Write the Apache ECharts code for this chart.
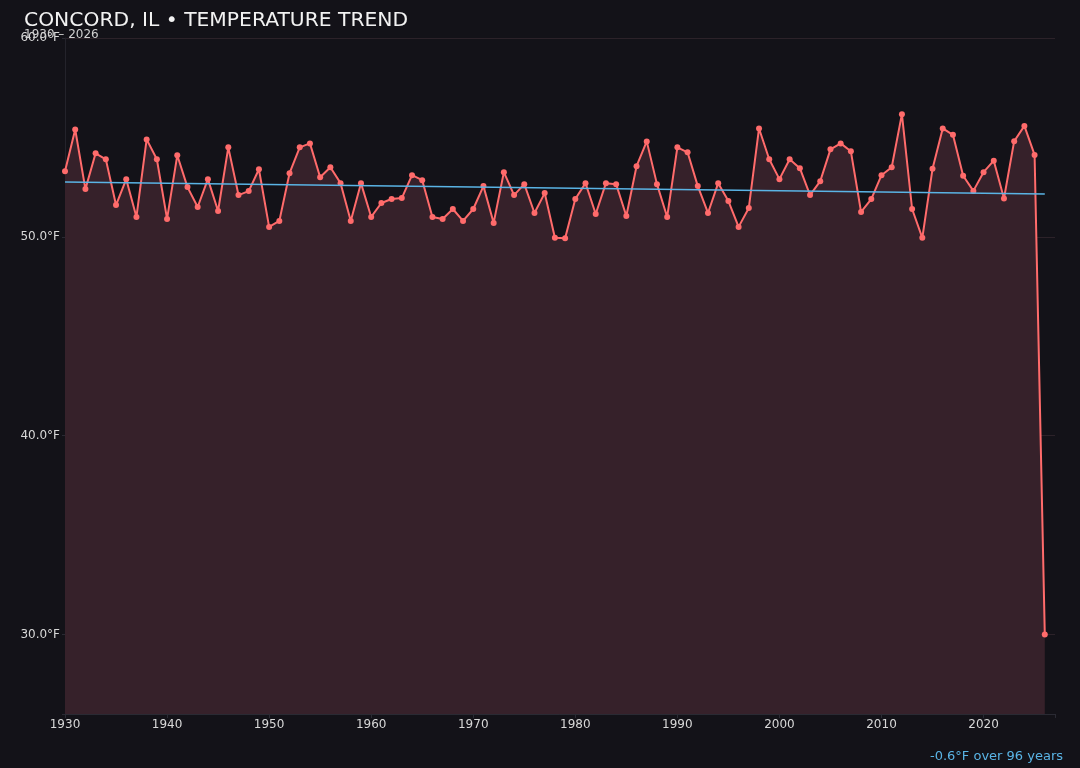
<!DOCTYPE html>
<html>
<head>
<meta charset="utf-8">
<script src="https://cdn.jsdelivr.net/npm/echarts@6/dist/echarts.min.js"></script>
<style>
html,body{margin:0;padding:0;background:#131218;}
#chart{width:1080px;height:768px;}
</style>
</head>
<body>
<div id="chart"></div>
<script>
const years = [];
for (let y = 1930; y <= 2026; y++) years.push(y);
const temps = [
  53.3, 55.4, 52.4, 54.2, 53.9, 51.6, 52.9, 51.0, 54.9, 53.9,
  50.9, 54.1, 52.5, 51.5, 52.9, 51.3, 54.5, 52.1, 52.3, 53.4,
  50.5, 50.8, 53.2, 54.5, 54.7, 53.0, 53.5, 52.7, 50.8, 52.7,
  51.0, 51.7, 51.9, 51.95, 53.1, 52.85, 51.0, 50.9, 51.4, 50.8,
  51.4, 52.55, 50.7, 53.25, 52.1, 52.65, 51.2, 52.2, 49.95, 49.93,
  51.9, 52.7, 51.15, 52.7, 52.65, 51.05, 53.55, 54.8, 52.65, 51.0,
  54.5, 54.25, 52.55, 51.2, 52.7, 51.8, 50.5, 51.45, 55.45, 53.9,
  52.9, 53.9, 53.45, 52.1, 52.8, 54.4, 54.7, 54.3, 51.25, 51.9,
  53.1, 53.5, 56.17, 51.4, 49.95, 53.42, 55.45, 55.13, 53.07, 52.31,
  53.25, 53.83, 51.93, 54.81, 55.58, 54.12, 30.0
];
const trendYears = [1930, 2026];
const trendValues = [52.76, 52.16];
const yTicks = [30, 40, 50, 60];
const titleText = 'CONCORD, IL \u2022 TEMPERATURE TREND';
const subtitleText = '1930 \u2013 2026';
const footText = '-0.6\u00b0F over 96 years';

const chart = echarts.init(document.getElementById('chart'));
chart.setOption({
  backgroundColor: '#131218',
  animation: false,
  textStyle: { fontFamily: 'DejaVu Sans' },
  title: [
    { text: titleText, left: 24, top: 11, padding: 0,
      textStyle: { color: '#f2f2f2', fontSize: 20.3, fontWeight: 'normal', fontFamily: 'DejaVu Sans' } },
    { text: subtitleText, left: 24, top: 29, padding: 0,
      textStyle: { color: '#d0d0d0', fontSize: 12, fontWeight: 'normal', fontFamily: 'DejaVu Sans' } },
    { text: footText, right: 17, bottom: 5, padding: 0,
      textStyle: { color: '#5ab4e5', fontSize: 13, fontWeight: 'normal', fontFamily: 'DejaVu Sans' } }
  ],
  grid: { left: 65, right: 25, top: 38, bottom: 54, containLabel: false },
  xAxis: {
    type: 'value', min: 1930, max: 2027, interval: 10,
    axisLine: { show: true, lineStyle: { color: '#2a2a33', width: 1 } },
    axisTick: { show: true, length: 4, lineStyle: { color: '#2a2a33' } },
    splitLine: { show: false },
    axisLabel: { color: '#d8d8d8', fontSize: 12, margin: 5,
      formatter: v => (v % 10 === 0 ? String(v) : '') }
  },
  yAxis: {
    type: 'value', min: 26, max: 60, splitNumber: 3,
    axisLine: { show: true, lineStyle: { color: '#24232b' } },
    axisTick: { show: true, length: 3, lineStyle: { color: '#2a2a33' } },
    splitLine: { show: true, lineStyle: { color: '#2c2229', width: 1 } },
    axisLabel: { color: '#d8d8d8', fontSize: 12, margin: 5,
      formatter: v => (yTicks.indexOf(v) >= 0 ? v.toFixed(1) + '\u00b0F' : '') }
  },
  series: [
    {
      type: 'line',
      data: years.map((y, i) => [y, temps[i]]),
      symbol: 'circle', symbolSize: 6,
      lineStyle: { color: '#ff6b6b', width: 2 },
      itemStyle: { color: '#ff6b6b' },
      areaStyle: { color: '#36212a', opacity: 1, origin: 'start' },
      z: 2
    },
    {
      type: 'line',
      data: trendYears.map((y, i) => [y, trendValues[i]]),
      symbol: 'none',
      lineStyle: { color: '#5ab4e5', width: 1.5 },
      z: 3
    }
  ]
});
</script>
</body>
</html>
